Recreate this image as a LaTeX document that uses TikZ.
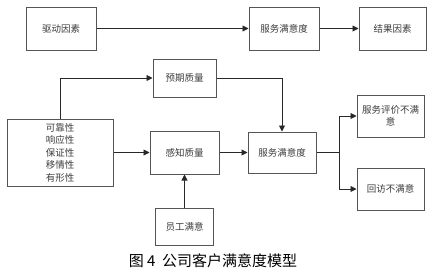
\documentclass[tikz,border=0pt]{standalone}
\usepackage{fontspec}
\newfontfamily\cjk{Noto Sans CJK SC}
\usetikzlibrary{arrows.meta, positioning}
\definecolor{bxline}{RGB}{85,85,85}
\definecolor{bxtext}{RGB}{60,60,60}
\definecolor{arline}{RGB}{40,40,40}

\begin{document}
\begin{tikzpicture}[
  x=1pt, y=-1pt,
  every node/.style={font=\cjk\fontsize{9.5}{12.5}\selectfont, text=bxtext},
  box/.style={draw=bxline, line width=1pt, align=center, inner sep=1pt,
    minimum width=70pt, minimum height=43pt},
  flow/.style={-{Triangle[length=6pt, width=6pt]}, line width=0.9pt, arline},
  figcap/.style={font=\cjk\fontsize{15}{17}\selectfont, text=black}
]
\useasboundingbox (0,0) rectangle (433,277);
% top row
\node[box] (drive) at (61,28.5) {驱动因素};
\node[box, right=152pt of drive] (sat1) {服务满意度};
\node[box, minimum width=67pt, right=39pt of sat1] (result) {结果因素};
% model
\node[box, minimum width=106pt, minimum height=67pt] (dims) at (60,152.5)
  {可靠性\\响应性\\保证性\\移情性\\有形性};
\node[box, minimum width=69pt, right=36pt of dims] (perceive) {感知质量};
\node[box, minimum width=68pt, minimum height=41pt, right=28pt of perceive] (sat2) {服务满意度};
\node[box, minimum width=63pt, minimum height=38pt, above=33pt of perceive] (expect) {预期质量};
\node[box, minimum width=58pt, minimum height=37pt, below=33pt of perceive] (staff) {员工满意};
\node[box, minimum width=67pt, minimum height=42pt] (complain) at (390.5,116) {服务评价不满\\意};
\node[box, minimum width=67pt, minimum height=42pt] (revisit) at (390.5,189) {回访不满意};
\coordinate (fork) at (339,152.5);
\node[figcap] (title) at (213,261) {图 4\ \ 公司客户满意度模型};
\draw[flow] (drive) -- (sat1);
\draw[flow] (sat1) -- (result);
\draw[flow] (dims.north) |- (expect.west);
\draw[flow] (expect.east) -| (sat2.north);
\draw[flow] (dims) -- (perceive);
\draw[flow] (perceive) -- (sat2);
\draw[flow] (staff) -- (perceive);
\draw[arline, line width=1.6pt] (sat2.east) -- (fork);
\draw[flow] (fork) |- (complain.west);
\draw[flow] (fork) |- (revisit.west);
\end{tikzpicture}
\end{document}
